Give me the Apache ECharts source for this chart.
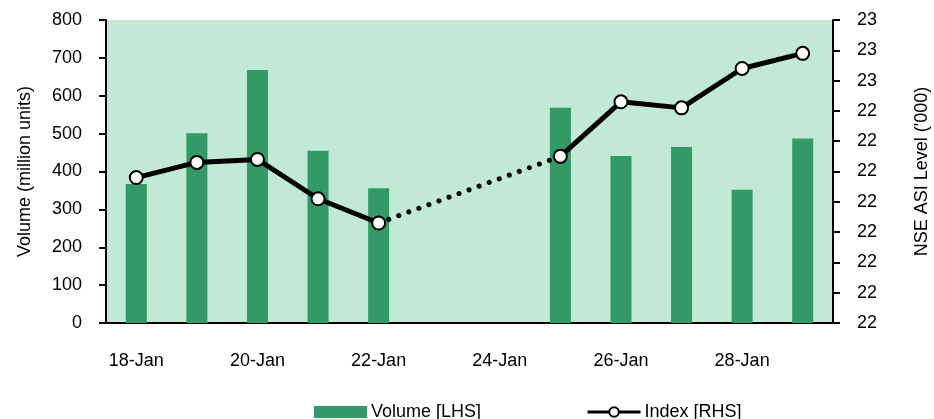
<!DOCTYPE html>
<html>
<head>
<meta charset="utf-8">
<script src="https://cdn.jsdelivr.net/npm/echarts@6/dist/echarts.min.js"></script>
<style>html,body{margin:0;padding:0;background:#fff;}#c{width:934px;height:419px;}</style>
</head>
<body>
<div id="c"></div>
<script>
const categories = ['18-Jan','19-Jan','20-Jan','21-Jan','22-Jan','23-Jan','24-Jan','25-Jan','26-Jan','27-Jan','28-Jan','29-Jan'];
const volume = [367, 501, 668, 455, 356, null, null, 568, 441, 465, 352, 487];
const indexLevel = [22.18, 22.23, 22.24, 22.11, 22.03, null, null, 22.25, 22.43, 22.41, 22.54, 22.59];
const gapBridge = [null, null, null, null, 22.03, null, null, 22.25, null, null, null, null];
const leftTicks = {min: 0, max: 800, interval: 100};
const rightTicks = {min: 21.7, max: 22.7, interval: 0.1};

const FONT = 'Liberation Sans';
const chart = echarts.init(document.getElementById('c'), null, {renderer: 'canvas'});
chart.setOption({
  animation: false,
  textStyle: {fontFamily: FONT},
  grid: {left: 106, right: 101, top: 20, bottom: 96, show: true, backgroundColor: '#C1E9D5', borderWidth: 0,
    containLabel: false, outerBoundsMode: 'none'},
  legend: {
    left: 309, top: 398, itemWidth: 53, itemHeight: 12, itemGap: 105,
    textStyle: {fontFamily: FONT, fontSize: 18, color: '#000', padding: [0, 0, 0, -1]},
    data: [
      {name: 'Volume [LHS]', icon: 'rect'},
      {name: 'Index [RHS]', lineStyle: {width: 3, color: '#000'},
        itemStyle: {color: '#fff', borderColor: '#000', borderWidth: 2}}
    ]
  },
  xAxis: {
    type: 'category', data: categories, boundaryGap: true,
    axisLine: {lineStyle: {color: '#000', width: 2}},
    axisTick: {interval: 1, length: 7, lineStyle: {color: '#000', width: 2}},
    axisLabel: {interval: 1, margin: 29, fontSize: 18, color: '#000', fontFamily: FONT},
    splitLine: {show: false}
  },
  yAxis: [
    {
      type: 'value', min: leftTicks.min, max: leftTicks.max, interval: leftTicks.interval,
      name: 'Volume (million units)', nameLocation: 'middle', nameGap: 72, nameRotate: 90,
      nameTextStyle: {fontSize: 18, color: '#000', fontFamily: FONT},
      axisLine: {show: true, lineStyle: {color: '#000', width: 2}},
      axisTick: {show: true, length: 7, lineStyle: {color: '#000', width: 2}},
      axisLabel: {margin: 24, fontSize: 18, color: '#000', fontFamily: FONT},
      splitLine: {show: false}
    },
    {
      type: 'value', position: 'right', min: rightTicks.min, max: rightTicks.max, interval: rightTicks.interval,
      name: "NSE ASI Level ('000)", nameLocation: 'middle', nameGap: 80, nameRotate: 90,
      nameTextStyle: {fontSize: 18, color: '#000', fontFamily: FONT},
      axisLine: {show: true, lineStyle: {color: '#000', width: 2}},
      axisTick: {show: true, length: 7, lineStyle: {color: '#000', width: 2}},
      axisLabel: {margin: 24, fontSize: 18, color: '#000', fontFamily: FONT,
        formatter: v => String(Math.round(v + 1e-9))},
      splitLine: {show: false}
    }
  ],
  series: [
    {
      name: 'Volume [LHS]', type: 'bar', yAxisIndex: 0, data: volume,
      barWidth: 21, itemStyle: {color: '#339966'}
    },
    {
      name: 'bridge', type: 'line', yAxisIndex: 1, data: gapBridge, connectNulls: true,
      showSymbol: false, symbol: 'none', z: 3, silent: true,
      lineStyle: {color: '#000', width: 5, type: [0.1, 10.6], cap: 'round'}
    },
    {
      name: 'Index [RHS]', type: 'line', yAxisIndex: 1, data: indexLevel, connectNulls: false,
      symbol: 'circle', symbolSize: 13, z: 4,
      itemStyle: {color: '#fff', borderColor: '#000', borderWidth: 2},
      lineStyle: {color: '#000', width: 5}
    }
  ]
});
</script>
</body>
</html>
